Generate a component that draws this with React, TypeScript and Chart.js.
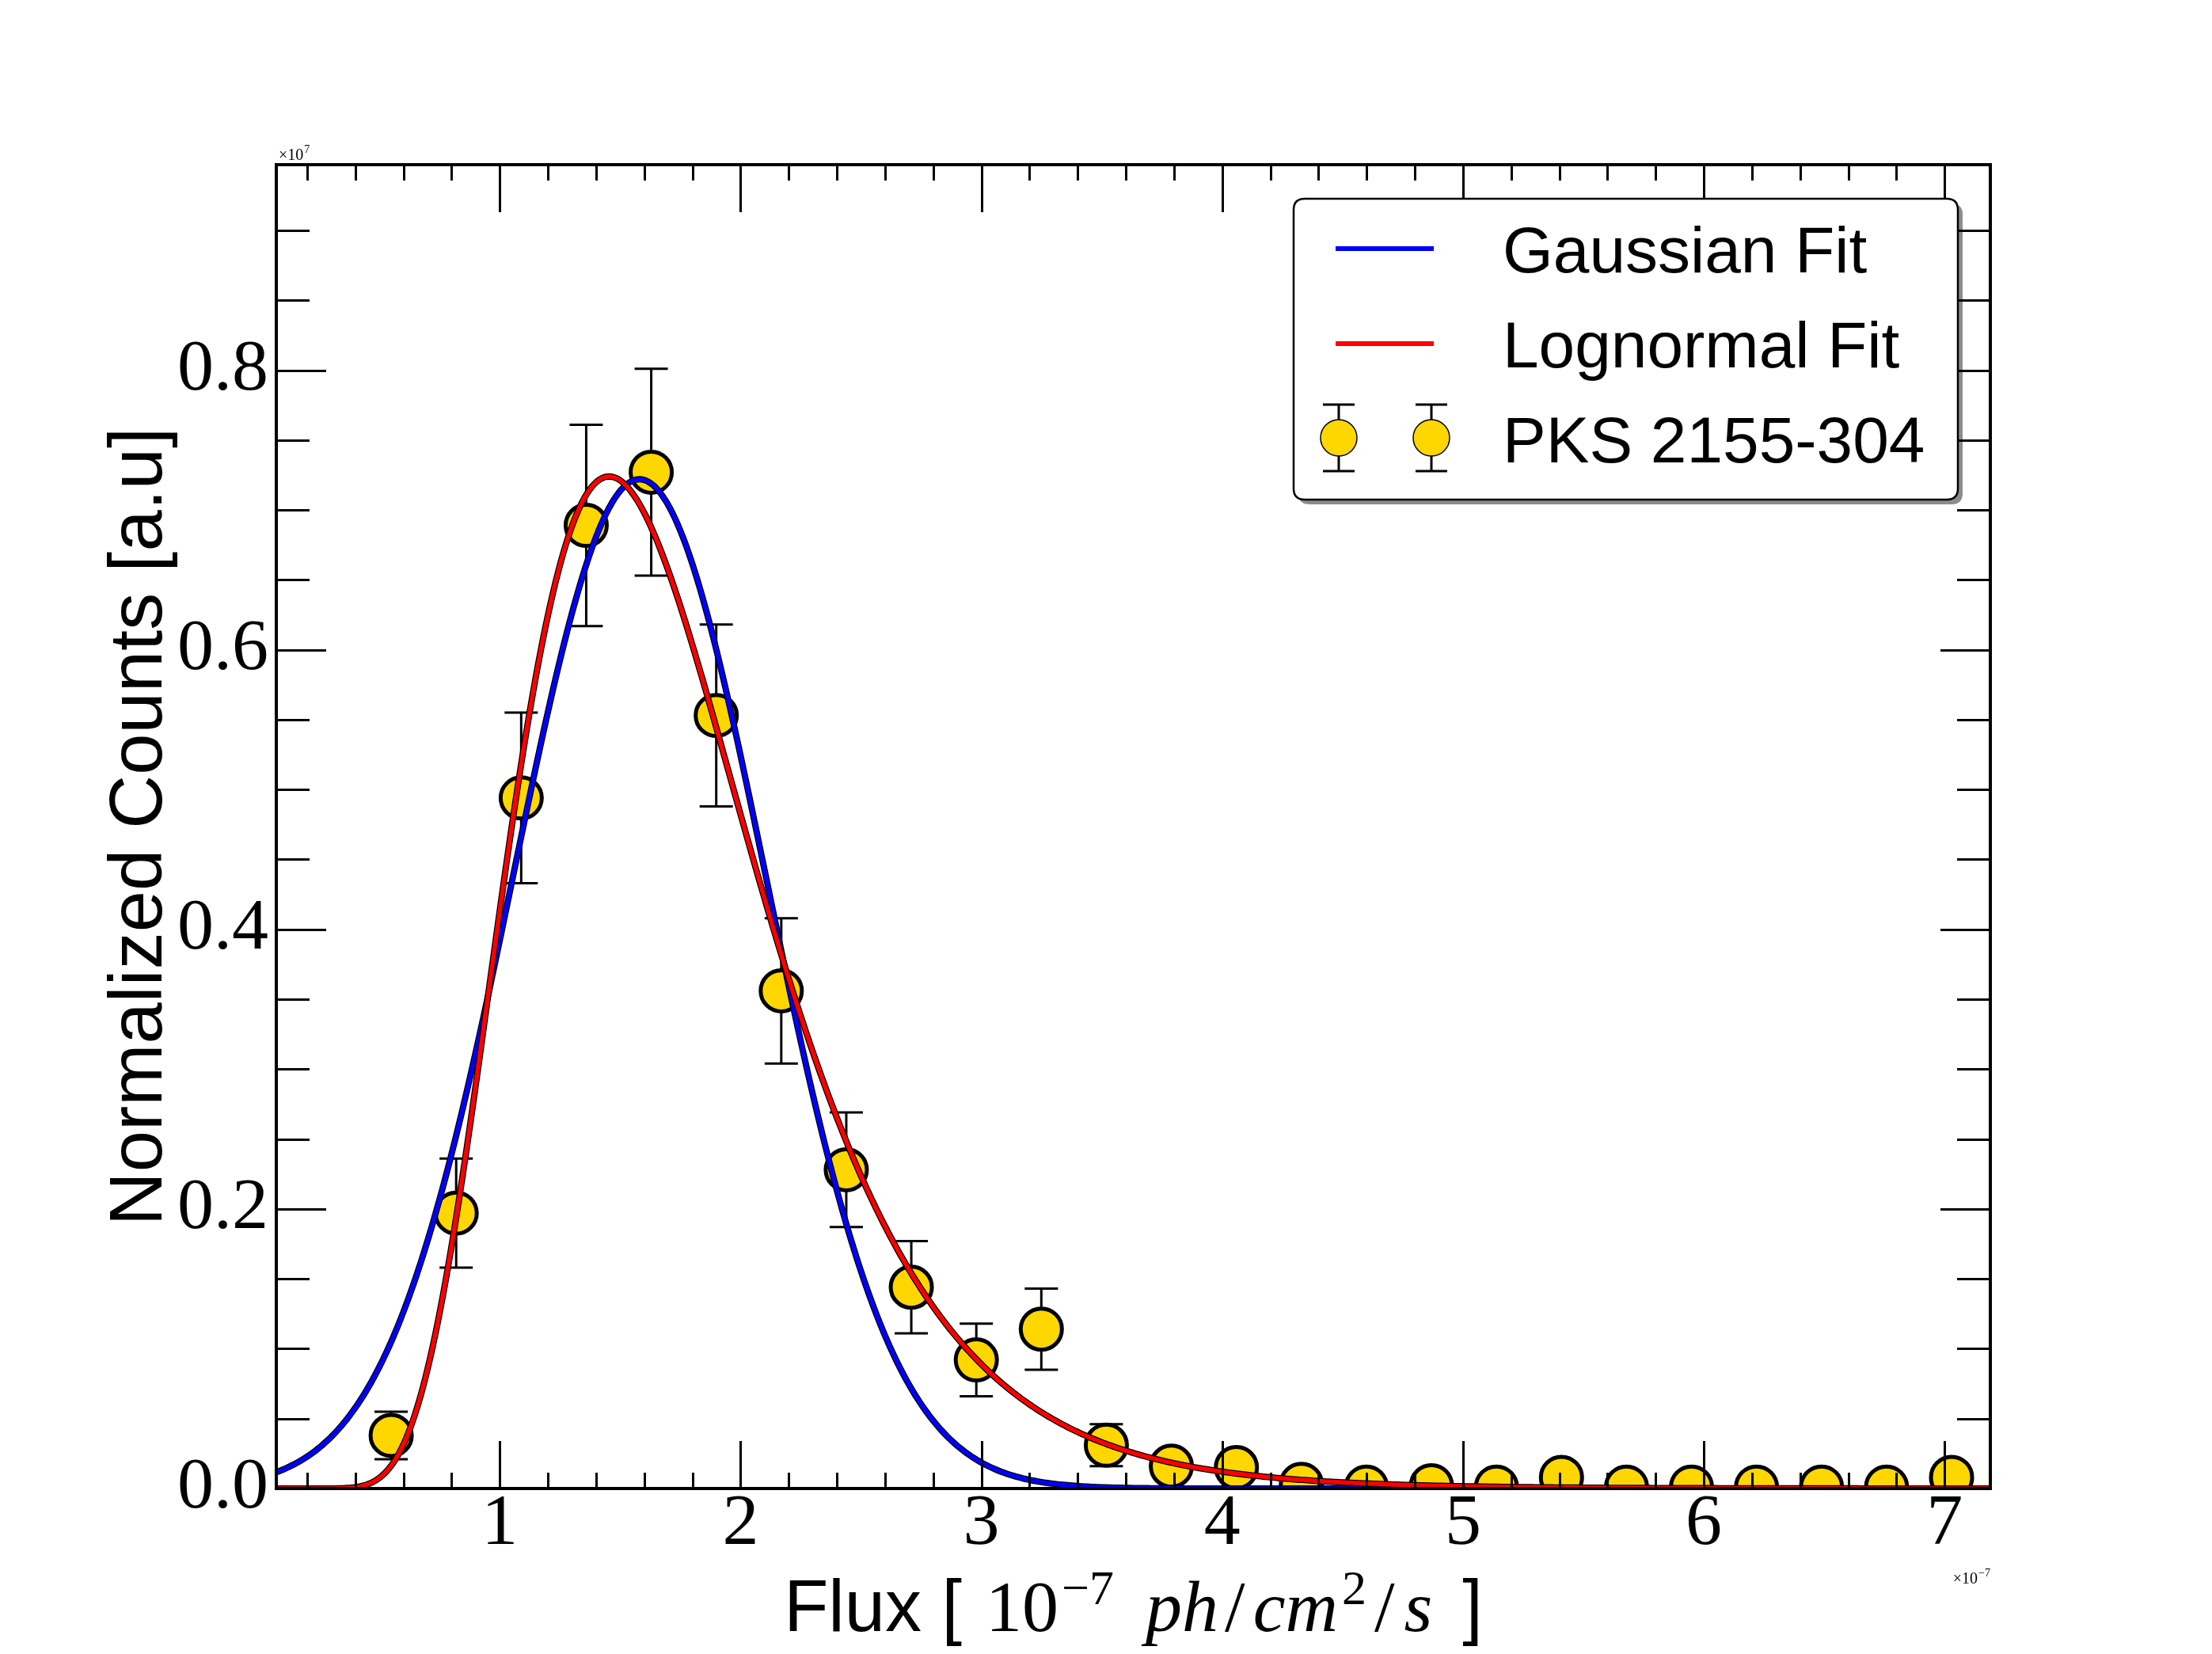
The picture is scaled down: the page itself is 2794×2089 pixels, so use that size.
import React, { useEffect, useRef } from 'react';
import { Chart, registerables } from 'chart.js';

Chart.register(...registerables);

// ---- data (flux in 1e-7 ph/cm2/s, normalized counts in 1e7) ----
const FLUX = [0.549, 0.819, 1.089, 1.359, 1.629, 1.899, 2.169, 2.439, 2.709, 2.979, 3.249, 3.519, 3.789, 4.059, 4.329, 4.599, 4.869, 5.139, 5.409, 5.679, 5.949, 6.219, 6.489, 6.759, 7.029];
const COUNTS = [0.038, 0.197, 0.494, 0.689, 0.727, 0.553, 0.356, 0.228, 0.144, 0.092, 0.114, 0.031, 0.016, 0.015, 0.003, 0.001, 0.002, 0.001, 0.008, 0.001, 0.001, 0.001, 0.001, 0.001, 0.008];
const ERRORS = [0.017, 0.039, 0.061, 0.072, 0.074, 0.065, 0.052, 0.041, 0.033, 0.026, 0.029, 0.015, 0.008, 0.008, 0.004, 0.002, 0.003, 0.002, 0.006, 0.002, 0.002, 0.002, 0.002, 0.002, 0.006];

// fit parameters
const GAUSS_PARAMS = [0.722, 1.58, 0.525]; // amplitude, mean, sigma
const LOGNORM_PARAMS = [1.1206, 0.4994, 0.3536]; // amplitude, mu (ln), sigma (ln)

const X_RANGE = [0.072, 7.19];
const Y_RANGE = [0, 0.947];
const X_TICKS = [1, 2, 3, 4, 5, 6, 7];
const X_TICK_LABELS = ['1', '2', '3', '4', '5', '6', '7'];
const Y_TICKS = [0, 0.2, 0.4, 0.6, 0.8];
const Y_TICK_LABELS = ['0.0', '0.2', '0.4', '0.6', '0.8'];
const X_MINOR_STEP = 0.2;
const Y_MINOR_STEP = 0.05;

const LEGEND_LABELS = ['Gaussian Fit', 'Lognormal Fit', 'PKS 2155-304'];
const Y_TITLE = 'Normalized Counts [a.u]';

const BLUE = '#0000ff';
const RED = '#ff0000';
const GOLD = '#ffd700';

const W = 2794;
const H = 2089;
const AREA = { left: 349, top: 208, right: 2514, bottom: 1880 };

function gaussian(x: number) {
  const [a, m, s] = GAUSS_PARAMS;
  return a * Math.exp(-((x - m) * (x - m)) / (2 * s * s));
}
function lognormal(x: number) {
  const [a, m, s] = LOGNORM_PARAMS;
  if (x <= 0) return 0;
  const l = Math.log(x) - m;
  return (a / x) * Math.exp(-(l * l) / (2 * s * s));
}

function curve(fn: (x: number) => number) {
  const n = 700;
  const pts: { x: number; y: number }[] = [];
  for (let i = 0; i <= n; i++) {
    const x = X_RANGE[0] + ((X_RANGE[1] - X_RANGE[0]) * i) / n;
    pts.push({ x, y: fn(x) });
  }
  return pts;
}

function roundRect(ctx: CanvasRenderingContext2D, x: number, y: number, w: number, h: number, r: number) {
  ctx.beginPath();
  ctx.moveTo(x + r, y);
  ctx.lineTo(x + w - r, y);
  ctx.quadraticCurveTo(x + w, y, x + w, y + r);
  ctx.lineTo(x + w, y + h - r);
  ctx.quadraticCurveTo(x + w, y + h, x + w - r, y + h);
  ctx.lineTo(x + r, y + h);
  ctx.quadraticCurveTo(x, y + h, x, y + h - r);
  ctx.lineTo(x, y + r);
  ctx.quadraticCurveTo(x, y, x + r, y);
  ctx.closePath();
}

type Part = { t: string; f: string; dy: number; gap: number };

function drawParts(ctx: CanvasRenderingContext2D, parts: Part[], x0: number, baseline: number, align: 'left' | 'center' | 'right') {
  let total = 0;
  parts.forEach((p, i) => {
    ctx.font = p.f;
    total += ctx.measureText(p.t).width + (i < parts.length - 1 ? p.gap : 0);
  });
  let x = align === 'left' ? x0 : align === 'center' ? x0 - total / 2 : x0 - total;
  ctx.textAlign = 'left';
  ctx.textBaseline = 'alphabetic';
  parts.forEach((p) => {
    ctx.font = p.f;
    ctx.fillText(p.t, x, baseline + p.dy);
    x += ctx.measureText(p.t).width + p.gap;
  });
}

const decorPlugin = {
  id: 'decor',
  beforeDatasetsDraw(chart: any) {
    const { ctx, chartArea: a, scales } = chart;
    const xs = scales.x;
    const ys = scales.y;
    ctx.save();
    ctx.beginPath();
    ctx.rect(a.left, a.top, a.right - a.left, a.bottom - a.top);
    ctx.clip();
    ctx.strokeStyle = '#000';
    ctx.lineWidth = 3;
    FLUX.forEach((fx, i) => {
      const px = xs.getPixelForValue(fx);
      const y1 = ys.getPixelForValue(COUNTS[i] + ERRORS[i]);
      const y2 = ys.getPixelForValue(COUNTS[i] - ERRORS[i]);
      ctx.beginPath();
      ctx.moveTo(px, y1);
      ctx.lineTo(px, y2);
      ctx.moveTo(px - 21, y1);
      ctx.lineTo(px + 21, y1);
      ctx.moveTo(px - 21, y2);
      ctx.lineTo(px + 21, y2);
      ctx.stroke();
    });
    ctx.restore();
  },
  afterDatasetsDraw(chart: any) {
    const { ctx, chartArea: a, scales } = chart;
    const xs = scales.x;
    const ys = scales.y;
    ctx.save();
    ctx.strokeStyle = '#000';
    ctx.fillStyle = '#000';

    // inward ticks on all four sides
    ctx.lineWidth = 3;
    ctx.beginPath();
    const xStart = Math.ceil(X_RANGE[0] / X_MINOR_STEP);
    const xEnd = Math.floor(X_RANGE[1] / X_MINOR_STEP);
    for (let k = xStart; k <= xEnd; k++) {
      const v = k * X_MINOR_STEP;
      const major = X_TICKS.some((t) => Math.abs(t - v) < 1e-6);
      const len = major ? 60 : 20;
      const px = Math.round(xs.getPixelForValue(v)) + 0.5;
      ctx.moveTo(px, a.bottom);
      ctx.lineTo(px, a.bottom - len);
      ctx.moveTo(px, a.top);
      ctx.lineTo(px, a.top + len);
    }
    const yStart = Math.ceil(Y_RANGE[0] / Y_MINOR_STEP);
    const yEnd = Math.floor(Y_RANGE[1] / Y_MINOR_STEP);
    for (let k = yStart; k <= yEnd; k++) {
      const v = k * Y_MINOR_STEP;
      const major = Y_TICKS.some((t) => Math.abs(t - v) < 1e-6);
      const len = major ? 63 : 42;
      const py = Math.round(ys.getPixelForValue(v)) + 0.5;
      ctx.moveTo(a.left, py);
      ctx.lineTo(a.left + len, py);
      ctx.moveTo(a.right, py);
      ctx.lineTo(a.right - len, py);
    }
    ctx.stroke();

    // spines
    ctx.lineWidth = 4;
    ctx.strokeRect(a.left, a.top, a.right - a.left, a.bottom - a.top);

    // offset texts
    drawParts(ctx, [
      { t: '\u00d710', f: '20px "Liberation Serif"', dy: 0, gap: 1 },
      { t: '7', f: '14px "Liberation Serif"', dy: -9, gap: 0 },
    ], a.left + 3, a.top - 6, 'left');
    drawParts(ctx, [
      { t: '\u00d710', f: '20px "Liberation Serif"', dy: 0, gap: 1 },
      { t: '\u22127', f: '14px "Liberation Serif"', dy: -9, gap: 0 },
    ], a.right, 2000, 'right');

    // axis titles
    const cx = (a.left + a.right) / 2;
    drawParts(ctx, [
      { t: 'Flux [', f: '92px "Liberation Sans"', dy: 0, gap: 30 },
      { t: '10', f: '92px "Liberation Serif"', dy: 0, gap: 4 },
      { t: '\u22127', f: '62px "Liberation Serif"', dy: -34, gap: 40 },
      { t: 'ph', f: 'italic 92px "Liberation Serif"', dy: 0, gap: 8 },
      { t: '/', f: '92px "Liberation Serif"', dy: 0, gap: 10 },
      { t: 'cm', f: 'italic 92px "Liberation Serif"', dy: 0, gap: 5 },
      { t: '2', f: '62px "Liberation Serif"', dy: -34, gap: 10 },
      { t: '/', f: '92px "Liberation Serif"', dy: 0, gap: 12 },
      { t: 's', f: 'italic 92px "Liberation Serif"', dy: 0, gap: 38 },
      { t: ']', f: '92px "Liberation Sans"', dy: 0, gap: 0 },
    ], cx, 2060, 'center');

    ctx.save();
    ctx.translate(204, (a.top + a.bottom) / 2);
    ctx.rotate(-Math.PI / 2);
    ctx.font = '94px "Liberation Sans"';
    ctx.textAlign = 'center';
    ctx.textBaseline = 'alphabetic';
    ctx.fillText(Y_TITLE, 0, 0);
    ctx.restore();

    // legend
    const L = 1634, T = 251, LW = 839, LH = 380;
    ctx.fillStyle = 'rgba(0,0,0,0.45)';
    roundRect(ctx, L + 6, T + 6, LW, LH, 14);
    ctx.fill();
    ctx.fillStyle = '#fff';
    roundRect(ctx, L, T, LW, LH, 14);
    ctx.fill();
    ctx.lineWidth = 2.5;
    ctx.strokeStyle = '#000';
    ctx.stroke();

    ctx.lineWidth = 6;
    ctx.lineCap = 'butt';
    ctx.strokeStyle = BLUE;
    ctx.beginPath();
    ctx.moveTo(1687, 314);
    ctx.lineTo(1811, 314);
    ctx.stroke();
    ctx.strokeStyle = RED;
    ctx.beginPath();
    ctx.moveTo(1687, 434);
    ctx.lineTo(1811, 434);
    ctx.stroke();

    [1691, 1808].forEach((mx) => {
      ctx.strokeStyle = '#000';
      ctx.lineWidth = 3;
      ctx.beginPath();
      ctx.moveTo(mx, 511);
      ctx.lineTo(mx, 595);
      ctx.moveTo(mx - 20, 511);
      ctx.lineTo(mx + 20, 511);
      ctx.moveTo(mx - 20, 595);
      ctx.lineTo(mx + 20, 595);
      ctx.stroke();
      ctx.beginPath();
      ctx.arc(mx, 553, 23, 0, Math.PI * 2);
      ctx.fillStyle = GOLD;
      ctx.fill();
      ctx.lineWidth = 1.5;
      ctx.stroke();
    });

    ctx.fillStyle = '#000';
    ctx.font = '82px "Liberation Sans"';
    ctx.textAlign = 'left';
    ctx.textBaseline = 'alphabetic';
    ctx.fillText(LEGEND_LABELS[0], 1898, 344);
    ctx.fillText(LEGEND_LABELS[1], 1898, 464);
    ctx.fillText(LEGEND_LABELS[2], 1898, 584);

    ctx.restore();
  },
};

export default function App() {
  const ref = useRef<HTMLCanvasElement | null>(null);

  useEffect(() => {
    if (!ref.current) return;
    const points = FLUX.map((x, i) => ({ x, y: COUNTS[i] }));
    const gauss = curve(gaussian);
    const logn = curve(lognormal);

    const lineDs = (label: string, data: any, color: string, width: number, order: number) => ({
      label,
      data,
      showLine: true,
      borderColor: color,
      backgroundColor: color,
      borderWidth: width,
      pointRadius: 0,
      tension: 0,
      clip: 0,
      order,
      borderCapStyle: 'round',
      borderJoinStyle: 'round',
    });

    const chart = new Chart(ref.current, {
      type: 'scatter',
      data: {
        datasets: [
          lineDs(LEGEND_LABELS[1], logn, RED, 5.5, 1),
          lineDs('lognormal-edge', logn, '#000', 8, 2),
          lineDs(LEGEND_LABELS[0], gauss, BLUE, 5.5, 3),
          lineDs('gauss-edge', gauss, '#000', 8, 4),
          {
            label: LEGEND_LABELS[2],
            data: points,
            pointRadius: 26,
            pointBackgroundColor: GOLD,
            pointBorderColor: '#000',
            pointBorderWidth: 5,
            backgroundColor: GOLD,
            borderColor: '#000',
            showLine: false,
            clip: 0,
            order: 5,
          } as any,
        ],
      },
      options: {
        responsive: false,
        maintainAspectRatio: false,
        animation: false,
        devicePixelRatio: 1,
        events: [],
        layout: { padding: { left: 0, top: AREA.top, right: W - AREA.right, bottom: 0 } },
        plugins: { legend: { display: false }, tooltip: { enabled: false }, title: { display: false } },
        scales: {
          x: {
            type: 'linear',
            min: X_RANGE[0],
            max: X_RANGE[1],
            grid: { display: false, drawTicks: false },
            border: { display: false },
            afterFit: (s: any) => { s.height = H - AREA.bottom; },
            afterBuildTicks: (s: any) => { s.ticks = X_TICKS.map((v) => ({ value: v })); },
            ticks: {
              autoSkip: false,
              maxRotation: 0,
              padding: 0,
              color: '#000',
              font: { family: '"Liberation Serif"', size: 92, lineHeight: 1 },
              callback: (_v: any, i: number) => X_TICK_LABELS[i],
            },
          },
          y: {
            type: 'linear',
            min: Y_RANGE[0],
            max: Y_RANGE[1],
            grid: { display: false, drawTicks: false },
            border: { display: false },
            afterFit: (s: any) => { s.width = AREA.left; },
            afterBuildTicks: (s: any) => { s.ticks = Y_TICKS.map((v) => ({ value: v })); },
            ticks: {
              autoSkip: false,
              padding: 10,
              color: '#000',
              font: { family: '"Liberation Serif"', size: 92, lineHeight: 1 },
              callback: (_v: any, i: number) => Y_TICK_LABELS[i],
            },
          },
        },
      } as any,
      plugins: [decorPlugin],
    });
    return () => chart.destroy();
  }, []);

  return (
    <div style={{ position: 'absolute', left: 0, top: 0, width: W, height: H, background: '#fff' }}>
      <canvas ref={ref} width={W} height={H} style={{ display: 'block', width: W, height: H }} />
    </div>
  );
}
